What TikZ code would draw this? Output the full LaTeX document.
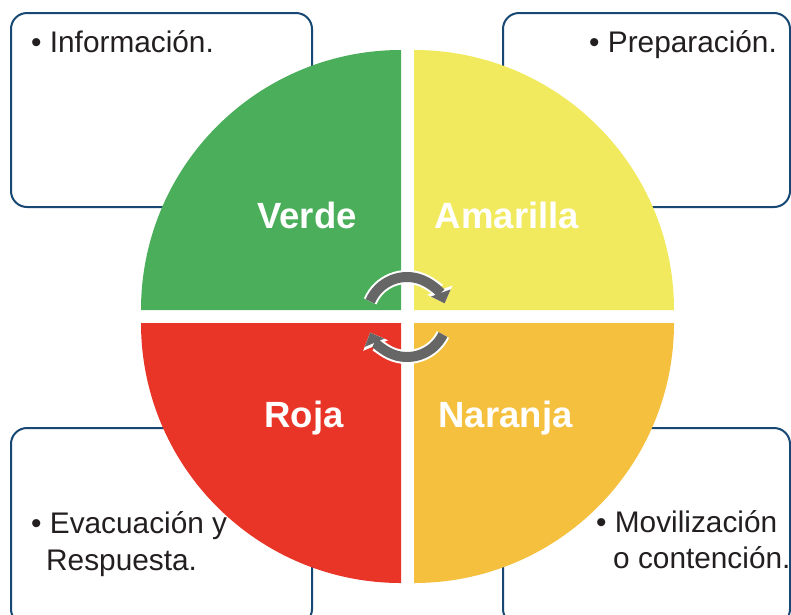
\documentclass[tikz,border=0pt]{standalone}
\usepackage{fontspec}
\setmainfont{Liberation Sans}
\usetikzlibrary{arrows.meta,calc}
\definecolor{cgreen}{RGB}{75,174,90}
\definecolor{cyellow}{RGB}{242,234,94}
\definecolor{cred}{RGB}{233,53,40}
\definecolor{corange}{RGB}{245,192,62}
\definecolor{boxblue}{RGB}{23,71,115}
\definecolor{txt}{RGB}{35,31,32}
\definecolor{arrowgray}{RGB}{102,102,102}
\begin{document}
\begin{tikzpicture}[x=1pt,y=-1pt,
  infobox/.style={draw=boxblue,line width=2pt,rounded corners=16pt,fill=white,inner sep=0pt},
  infotext/.style={inner sep=0pt,anchor=base west,text=txt,font=\fontsize{29.8}{34}\selectfont},
  quadlabel/.style={inner sep=0pt,anchor=base,text=white,font=\bfseries\fontsize{36.5}{40}\selectfont},
  cyclewhite/.style={draw=white,line width=14pt,-{Triangle[length=14pt,width=27pt,line width=0pt]}},
  cyclegray/.style={draw=arrowgray,line width=10pt,-{Triangle[length=11pt,width=21pt,line width=0pt]}}
]
\useasboundingbox (0,0) rectangle (791,614);
\clip (0,0) rectangle (791,614);
\fill[white] (0,0) rectangle (791,614);

% boxes
\node[infobox,minimum width=301pt,minimum height=194pt] (boxTL) at (161.5,110) {};
\node[infobox,minimum width=287pt,minimum height=194pt] (boxTR) at (646.5,110) {};
\node[infobox,minimum width=301pt,minimum height=197pt] (boxBL) at (161.5,526.5) {};
\node[infobox,minimum width=287pt,minimum height=197pt] (boxBR) at (646.5,526.5) {};

% quadrants
\fill[cgreen] (401,310) -- (141,310) arc[start angle=180,end angle=270,radius=260] -- cycle;
\fill[cyellow] (414,310) -- (414,50) arc[start angle=270,end angle=360,radius=260] -- cycle;
\fill[corange] (414,323) -- (674,323) arc[start angle=0,end angle=90,radius=260] -- cycle;
\fill[cred] (401,323) -- (401,583) arc[start angle=90,end angle=180,radius=260] -- cycle;

% labels
\node[quadlabel] (lVerde) at (307,228) {Verde};
\node[quadlabel] (lAmarilla) at (507,228) {Amarilla};
\node[quadlabel] (lRoja) at (304,427) {Roja};
\node[quadlabel] (lNaranja) at (505.5,427) {Naranja};

% cycle arrows
\coordinate (cc) at (407,317);
\draw[cyclewhite] ([shift={(-157:40)}]cc) arc[start angle=-157,end angle=-20,radius=40];
\draw[cyclegray] ([shift={(-157:40)}]cc) arc[start angle=-157,end angle=-20,radius=40];
\draw[cyclewhite] ([shift={(26:40)}]cc) arc[start angle=26,end angle=157,radius=40];
\draw[cyclegray] ([shift={(26:40)}]cc) arc[start angle=26,end angle=157,radius=40];

% texts
\node[infotext] (tInfo) at (31,52) {• Información.};
\node[infotext] (tPrep) at (589,52) {• Preparación.};
\node[infotext] (tEvac) at (31,533) {• Evacuación y};
\node[infotext] (tResp) at (46,570) {Respuesta.};
\node[infotext] (tMov) at (596,532) {• Movilización};
\node[infotext] (tCont) at (613,568) {o contención.};
\end{tikzpicture}
\end{document}
